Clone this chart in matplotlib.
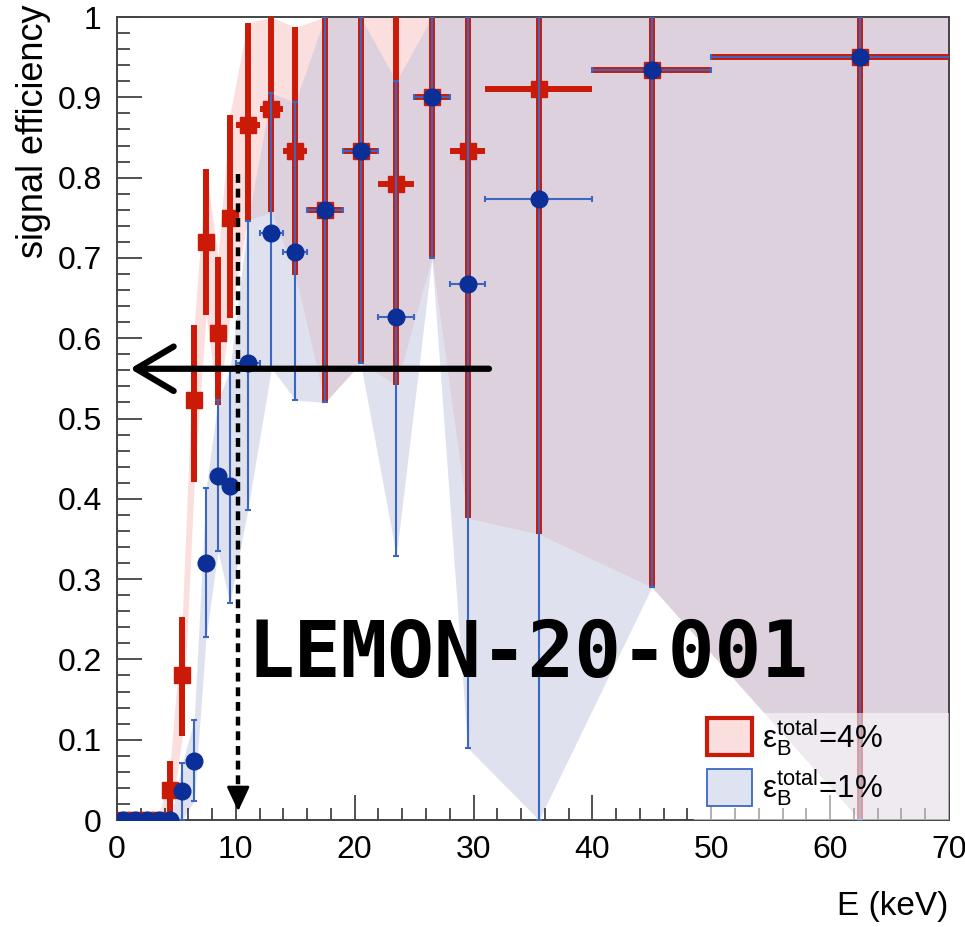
import numpy as np
import matplotlib
matplotlib.use('Agg')
import matplotlib.pyplot as plt
from matplotlib.patches import Patch, Rectangle
from matplotlib.ticker import MultipleLocator, FuncFormatter

plt.rcParams['font.family'] = ['Liberation Sans', 'DejaVu Sans']
plt.rcParams['mathtext.fontset'] = 'custom'
plt.rcParams['mathtext.rm'] = 'Liberation Sans'
plt.rcParams['mathtext.it'] = 'Liberation Sans:italic'

# ---------------------------------------------------------#
# Data                              #
# ---------------------------------------------------------#
# energy bins: centre and half width (keV)
e_center = [0.5, 1.5, 2.5, 3.5, 4.5, 5.5, 6.5, 7.5, 8.5, 9.5,
            11, 13, 15, 17.5, 20.5, 23.5, 26.5, 29.5, 35.5, 45, 62.5]
e_half   = [0.5, 0.5, 0.5, 0.5, 0.5, 0.5, 0.5, 0.5, 0.5, 0.5,
            1, 1, 1, 1.5, 1.5, 1.5, 1.5, 1.5, 4.5, 5, 12.5]

# eps_B^total = 4 %  (red squares)
red_eff = [0, 0, 0, 0, 0.037, 0.18, 0.523, 0.72, 0.607, 0.75,
           0.866, 0.885, 0.833, 0.76, 0.833, 0.792, 0.90, 0.833, 0.91, 0.934, 0.95]
red_lo  = [0, 0, 0, 0, 0, 0.105, 0.421, 0.629, 0.517, 0.625,
           0.747, 0.757, 0.679, 0.52, 0.569, 0.542, 0.70, 0.376, 0.356, 0.29, 0.0]
red_hi  = [0, 0, 0, 0, 0.073, 0.253, 0.616, 0.811, 0.701, 0.878,
           0.993, 1.0, 0.987, 1.0, 1.0, 1.0, 1.0, 1.0, 1.0, 1.0, 1.0]

# eps_B^total = 1 %  (blue circles)
blue_eff = [0, 0, 0, 0, 0, 0.036, 0.074, 0.32, 0.428, 0.416,
            0.569, 0.731, 0.708, 0.76, 0.833, 0.626, 0.90, 0.667, 0.773, 0.934, 0.95]
blue_lo  = [0, 0, 0, 0, 0, 0, 0.024, 0.228, 0.335, 0.27,
            0.386, 0.563, 0.523, 0.52, 0.569, 0.329, 0.70, 0.09, 0.0, 0.29, 0.0]
blue_hi  = [0, 0, 0, 0, 0, 0.071, 0.125, 0.413, 0.523, 0.56,
            0.746, 0.905, 0.894, 1.0, 1.0, 0.92, 1.0, 1.0, 1.0, 1.0, 1.0]

label_red  = r'$\mathrm{ε}_{\mathrm{B}}^{\mathrm{total}}$=4%'
label_blue = r'$\mathrm{ε}_{\mathrm{B}}^{\mathrm{total}}$=1%'

# annotations drawn on top of the plot
marker_text   = 'LEMON-20-001'
text_pos      = (11.0, 0.178)
harrow_y      = 0.562
harrow_x      = (31.3, 1.1)
varrow_x      = 10.2
varrow_y      = (0.805, 0.011)

x_max = 70

# ---------------------------------------------------------#
# Styles                                                   #
# ---------------------------------------------------------#
col_red        = '#cc1a08'
col_red_fill   = '#fbdede'
col_blue       = '#0b2f96'
col_blue_bar   = '#3b67c2'
col_blue_fill  = '#bec5de'
col_blue_patch = '#dde3f1'
tick_fs  = 23
label_fs = 24

e_center = np.array(e_center)
e_half   = np.array(e_half)
red_eff, red_lo, red_hi = map(np.array, (red_eff, red_lo, red_hi))
blue_eff, blue_lo, blue_hi = map(np.array, (blue_eff, blue_lo, blue_hi))

# bands run on to the edge of the axis
band_x = np.append(e_center, x_max)

fig = plt.figure(figsize=(9.65, 9.27), dpi=100)
ax = fig.add_axes([0.1212, 0.1154, 0.8622, 0.8662])

ax.fill_between(band_x, np.append(red_lo, red_lo[-1]), np.append(red_hi, red_hi[-1]),
                color=col_red_fill, lw=0, zorder=1)
ax.fill_between(band_x, np.append(blue_lo, blue_lo[-1]), np.append(blue_hi, blue_hi[-1]),
                color=col_blue_fill, alpha=0.485, lw=0, zorder=1.5)

ax.errorbar(e_center, red_eff, xerr=e_half,
            yerr=[red_eff - red_lo, red_hi - red_eff],
            fmt='s', ms=12, color=col_red, ecolor=col_red,
            elinewidth=4.3, capsize=0, zorder=3)
ax.errorbar(e_center, blue_eff, xerr=e_half,
            yerr=[blue_eff - blue_lo, blue_hi - blue_eff],
            fmt='o', ms=12, color=col_blue, ecolor=col_blue_bar,
            elinewidth=1.5, capsize=2.5, capthick=1.5, zorder=4)

# dashed vertical arrow
ax.plot([varrow_x, varrow_x], [varrow_y[0], varrow_y[1] + 0.02], color='black',
        lw=3.2, dashes=(2.0, 1.3), zorder=5)
ax.annotate('', xy=(varrow_x, varrow_y[1]), xytext=(varrow_x, varrow_y[1] + 0.03),
            arrowprops=dict(arrowstyle='-|>,head_length=0.75,head_width=0.35',
                            color='black', lw=2, mutation_scale=20,
                            shrinkA=0, shrinkB=0), zorder=5)

# horizontal arrow
ax.annotate('', xy=(harrow_x[1], harrow_y), xytext=(harrow_x[0], harrow_y),
            arrowprops=dict(arrowstyle='->,head_length=1.35,head_width=0.8',
                            color='black', lw=4.5, mutation_scale=20,
                            shrinkA=0, shrinkB=0), zorder=6)

ax.text(text_pos[0], text_pos[1], marker_text, fontsize=56, fontweight='bold',
        family='DejaVu Sans Mono', ha='left', va='baseline', zorder=7)

# legend
ax.add_patch(Rectangle((0.694, 0.0), 0.306, 0.133, transform=ax.transAxes,
                       facecolor='white', alpha=0.55, lw=0, zorder=8))
handles = [Patch(facecolor=col_red_fill, edgecolor=col_red, lw=3, label=label_red),
           Patch(facecolor=col_blue_patch, edgecolor=col_blue_bar, lw=1.3, label=label_blue)]
leg = ax.legend(handles=handles, loc='upper left', bbox_to_anchor=(0.709, 0.128),
                frameon=False, fontsize=22.5, borderpad=0, borderaxespad=0,
                handlelength=1.45, handleheight=1.45, handletextpad=0.3,
                labelspacing=0.32)
leg.set_zorder(9)

# axes
ax.set_xlim(0, x_max)
ax.set_ylim(0, 1)
ax.xaxis.set_major_locator(MultipleLocator(10))
ax.xaxis.set_minor_locator(MultipleLocator(2))
ax.yaxis.set_major_locator(MultipleLocator(0.1))
ax.yaxis.set_minor_locator(MultipleLocator(0.02))

def yfmt(v, pos):
    if abs(v) < 1e-9:
        return '0'
    if abs(v - 1) < 1e-9:
        return '1'
    return '%.1f' % v

ax.yaxis.set_major_formatter(FuncFormatter(yfmt))
ax.xaxis.set_major_formatter(FuncFormatter(lambda v, p: '%d' % round(v)))
ax.tick_params(which='both', direction='in', top=False, right=False,
               width=1.2, color='#333333', labelsize=tick_fs)
ax.tick_params(which='major', length=18)
ax.tick_params(which='minor', length=9)
ax.tick_params(axis='y', pad=11)
ax.tick_params(axis='x', pad=11)
for s in ax.spines.values():
    s.set_color('#444444')
    s.set_linewidth(1.4)

fig.text(34 / 965, 1 - 4 / 927, 'signal efficiency', rotation=90,
         ha='center', va='top', fontsize=26)
fig.text(948 / 965, 1 - 907 / 927, 'E (keV)', ha='right', va='center',
         fontsize=label_fs)

fig.savefig('out.png', dpi=100)
